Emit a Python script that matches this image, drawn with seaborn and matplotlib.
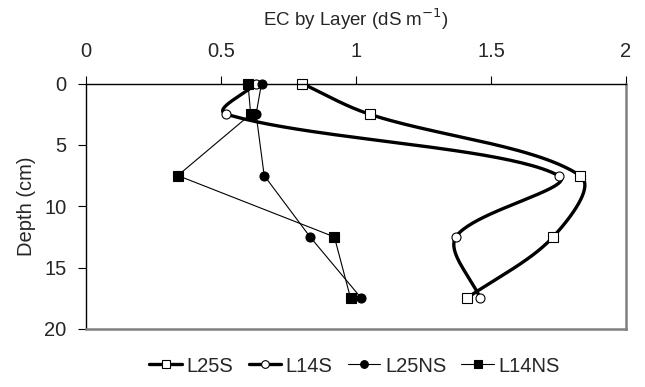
import numpy as np
import pandas as pd
import matplotlib
matplotlib.use("Agg")
import matplotlib.pyplot as plt
from matplotlib.lines import Line2D
import seaborn as sns

depth = [0, 2.5, 7.5, 12.5, 17.5]
L25S = [0.80, 1.05, 1.83, 1.73, 1.41]
L14S = [0.63, 0.52, 1.75, 1.37, 1.46]
L25NS = [0.65, 0.63, 0.66, 0.83, 1.02]
L14NS = [0.60, 0.61, 0.34, 0.92, 0.98]
series_names = ["L25S", "L14S", "L25NS", "L14NS"]
x_ticks = [0, 0.5, 1, 1.5, 2]
x_ticklabels = ["0", "0.5", "1", "1.5", "2"]
y_ticks = [0, 5, 10, 15, 20]

sns.set_style("white")
plt.rcParams["font.family"] = ["Liberation Sans", "DejaVu Sans"]

fig = plt.figure(figsize=(6.45, 3.87), dpi=100)
ax = fig.add_axes([86 / 645, 1 - 329 / 387, 540 / 645, (329 - 83.5) / 387])

ax.set_xlim(0, 2)
ax.set_ylim(20, 0)

# pixel scale for Excel-like smoothing
sx = ax.get_position().width * 645 / 2.0
sy = ax.get_position().height * 387 / 20.0


def excel_smooth(x, y, n=50, w=0.9):
    P = np.column_stack([np.asarray(x) * sx, np.asarray(y) * sy])
    m = len(P)
    cout = np.zeros_like(P)
    cin = np.zeros_like(P)
    for i in range(m):
        p_prev = P[max(i - 1, 0)]
        p_next = P[min(i + 1, m - 1)]
        T = p_next - p_prev
        d0 = np.linalg.norm(P[i] - p_prev)
        d1 = np.linalg.norm(p_next - P[i])
        tot = d0 + d1 if d0 + d1 > 0 else 1.0
        f_in = (1 - w) * 0.5 + w * d0 / tot
        f_out = (1 - w) * 0.5 + w * d1 / tot
        cin[i] = P[i] - T * f_in / 3.0
        cout[i] = P[i] + T * f_out / 3.0
    segs = []
    t = np.linspace(0, 1, n)[:, None]
    for i in range(m - 1):
        p1, p2 = P[i], P[i + 1]
        c1, c2 = cout[i], cin[i + 1]
        seg = (1 - t) ** 3 * p1 + 3 * (1 - t) ** 2 * t * c1 + 3 * (1 - t) * t ** 2 * c2 + t ** 3 * p2
        segs.append(seg if i == 0 else seg[1:])
    pts = np.vstack(segs)
    return pts[:, 0] / sx, pts[:, 1] / sy


thick = 2.4
thin = 0.8
ms = 6.5

styles = {
    "L25S": dict(vals=L25S, marker="s", mfc="white", lw=thick, smooth=True),
    "L14S": dict(vals=L14S, marker="o", mfc="white", lw=thick, smooth=True),
    "L25NS": dict(vals=L25NS, marker="o", mfc="black", lw=thin, smooth=False),
    "L14NS": dict(vals=L14NS, marker="s", mfc="black", lw=thin, smooth=False),
}

z = 2
for name in series_names:
    st = styles[name]
    if st["smooth"]:
        cx, cy = excel_smooth(st["vals"], depth)
        df = pd.DataFrame({"x": cx, "y": cy})
    else:
        df = pd.DataFrame({"x": st["vals"], "y": depth})
    sns.lineplot(data=df, x="x", y="y", sort=False, estimator=None, color="black",
                 lw=st["lw"], ax=ax, zorder=z)
    ax.plot(st["vals"], depth, linestyle="none", marker=st["marker"], ms=ms,
            mfc=st["mfc"], mec="black", mew=0.8, zorder=z + 0.5, clip_on=False)
    z += 1

ax.set_xlabel("EC by Layer (dS m$^{-1}$)", fontsize=13.5, labelpad=12)
ax.set_ylabel("Depth (cm)", fontsize=14.5, labelpad=6)
ax.xaxis.tick_top()
ax.xaxis.set_label_position("top")
ax.set_xticks(x_ticks)
ax.set_xticklabels(x_ticklabels)
ax.set_yticks(y_ticks)
ax.tick_params(axis="x", which="both", direction="out", length=6, width=0.8,
               color="black", labelsize=14.5, pad=10, top=True, bottom=False)
ax.tick_params(axis="y", which="both", direction="out", length=6, width=0.8,
               color="black", labelsize=14.5, pad=8, left=True, right=False)

ax.spines["top"].set_color("black")
ax.spines["top"].set_linewidth(1.0)
ax.spines["left"].set_color("black")
ax.spines["left"].set_linewidth(1.0)
ax.spines["right"].set_color("#808080")
ax.spines["right"].set_linewidth(1.8)
ax.spines["bottom"].set_color("#808080")
ax.spines["bottom"].set_linewidth(1.8)
for s in ax.spines.values():
    s.set_visible(True)
ax.grid(False)

handles = []
for name in series_names:
    st = styles[name]
    handles.append(Line2D([0], [0], color="black", lw=st["lw"], marker=st["marker"],
                          ms=ms * 0.85, mfc=st["mfc"], mec="black", mew=0.8))
fig.legend(handles, series_names, loc="center", bbox_to_anchor=(0.55, 1 - 366 / 387),
           ncol=4, frameon=False, fontsize=14.5, handlelength=1.6, handletextpad=0.25,
           columnspacing=0.75)

fig.savefig("out.png", dpi=100)
